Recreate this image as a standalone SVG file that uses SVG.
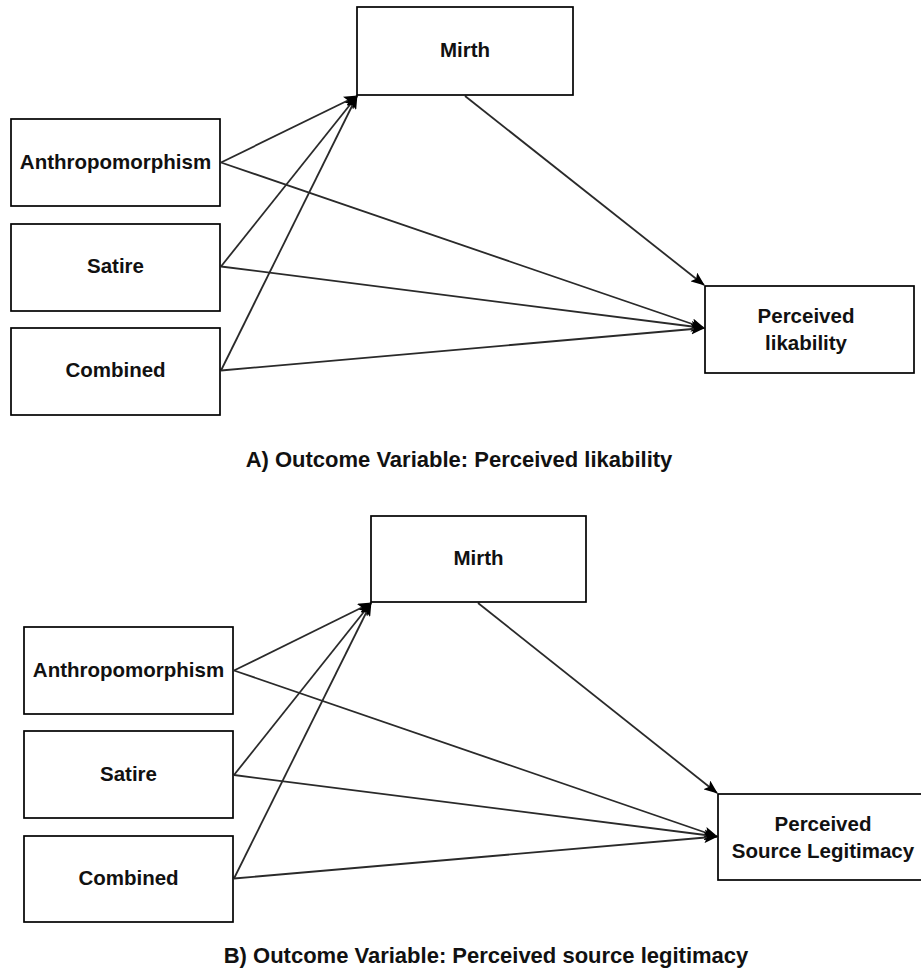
<svg xmlns="http://www.w3.org/2000/svg" width="921" height="976" viewBox="0 0 921 976">
<style>
.box{fill:#fff;stroke:#000;stroke-width:1.7}
.lbl{font-family:"Liberation Sans",Arial,sans-serif;font-weight:bold;font-size:20.5px;fill:#111;text-anchor:middle}
.cap{font-family:"Liberation Sans",Arial,sans-serif;font-weight:bold;font-size:22px;fill:#111;text-anchor:middle}
.edge{fill:none;stroke:#2a2a2a;stroke-width:1.8}
</style>
<defs>
<marker id="arr" viewBox="0 0 14 11" refX="13" refY="5.5" markerWidth="14" markerHeight="11" markerUnits="userSpaceOnUse" orient="auto">
<path d="M0,0 L14,5.5 L0,11 L3,5.5 z" fill="#000"/>
</marker>
</defs>
<rect width="921" height="976" fill="#fff"/>

<g id="connectors">
<line class="edge" x1="221" y1="162.5" x2="357" y2="96" marker-end="url(#arr)"/>
<line class="edge" x1="221" y1="266.5" x2="357" y2="96" marker-end="url(#arr)"/>
<line class="edge" x1="221" y1="370.5" x2="357" y2="96" marker-end="url(#arr)"/>
<line class="edge" x1="221" y1="162.5" x2="704" y2="328" marker-end="url(#arr)"/>
<line class="edge" x1="221" y1="266.5" x2="704" y2="328" marker-end="url(#arr)"/>
<line class="edge" x1="221" y1="370.5" x2="704" y2="328" marker-end="url(#arr)"/>
<line class="edge" x1="465" y1="96" x2="704" y2="285" marker-end="url(#arr)"/>

<line class="edge" x1="234" y1="670.5" x2="371" y2="603" marker-end="url(#arr)"/>
<line class="edge" x1="234" y1="775" x2="371" y2="603" marker-end="url(#arr)"/>
<line class="edge" x1="234" y1="878.5" x2="371" y2="603" marker-end="url(#arr)"/>
<line class="edge" x1="234" y1="670.5" x2="717" y2="836.5" marker-end="url(#arr)"/>
<line class="edge" x1="234" y1="775" x2="717" y2="836.5" marker-end="url(#arr)"/>
<line class="edge" x1="234" y1="878.5" x2="717" y2="836.5" marker-end="url(#arr)"/>
<line class="edge" x1="478" y1="603" x2="717" y2="793" marker-end="url(#arr)"/>
</g>

<g id="mirthA"><rect class="box" x="357" y="7" width="216" height="88"/><text class="lbl" x="465" y="57">Mirth</text></g>
<g id="anthA"><rect class="box" x="11" y="119" width="209" height="87"/><text class="lbl" x="115.5" y="169">Anthropomorphism</text></g>
<g id="satireA"><rect class="box" x="11" y="224" width="209" height="87"/><text class="lbl" x="115.5" y="273">Satire</text></g>
<g id="combinedA"><rect class="box" x="11" y="328" width="209" height="87"/><text class="lbl" x="115.5" y="377">Combined</text></g>
<g id="likabilityA"><rect class="box" x="705" y="286" width="209" height="87"/><text class="lbl" x="806" y="323">Perceived</text><text class="lbl" x="806" y="349.5">likability</text></g>
<text id="captionA" class="cap" x="459" y="467">A) Outcome Variable: Perceived likability</text>

<g id="mirthB"><rect class="box" x="371" y="516" width="215" height="86"/><text class="lbl" x="478.5" y="565">Mirth</text></g>
<g id="anthB"><rect class="box" x="24" y="627" width="209" height="87"/><text class="lbl" x="128.5" y="677">Anthropomorphism</text></g>
<g id="satireB"><rect class="box" x="24" y="731" width="209" height="87"/><text class="lbl" x="128.5" y="781">Satire</text></g>
<g id="combinedB"><rect class="box" x="24" y="836" width="209" height="86"/><text class="lbl" x="128.5" y="885">Combined</text></g>
<g id="legitimacyB"><rect class="box" x="718" y="794" width="212" height="86"/><text class="lbl" x="823" y="831">Perceived</text><text class="lbl" x="823" y="857.5">Source Legitimacy</text></g>
<text id="captionB" class="cap" x="486" y="963">B) Outcome Variable: Perceived source legitimacy</text>
</svg>
